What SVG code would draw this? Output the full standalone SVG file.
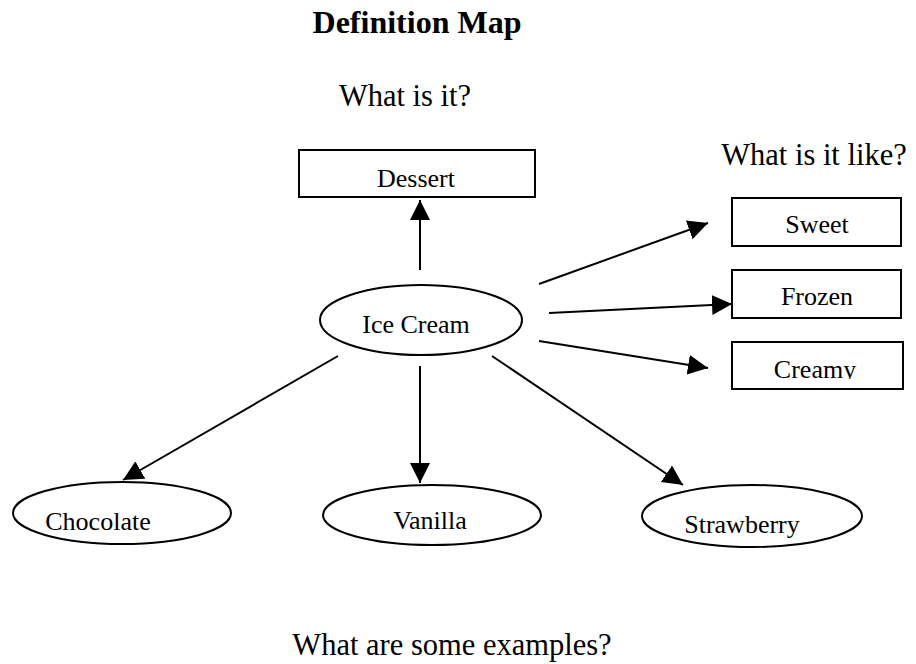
<svg xmlns="http://www.w3.org/2000/svg" width="916" height="664" viewBox="0 0 916 664">
<style>
.t{font-family:"Liberation Serif","Times New Roman",serif;fill:#000}
.lbl{font-size:30.5px}
.nt{font-size:26px}
.box{fill:#fff;stroke:#000;stroke-width:2}
.ell{fill:#fff;stroke:#000;stroke-width:2}
.c{stroke:#000;stroke-width:2;fill:none;marker-end:url(#ah)}
</style>
<defs>
<marker id="ah" markerUnits="userSpaceOnUse" markerWidth="20" markerHeight="20" refX="20" refY="10" orient="auto" viewBox="0 0 20 20">
<path d="M0,0 L20,10 L0,20 z" fill="#000"/>
</marker>
<clipPath id="clipCreamy"><rect x="732" y="342" width="171" height="37"/></clipPath>
</defs>
<rect width="916" height="664" fill="#fff"/>
<text class="t" x="417" y="33" font-size="32" font-weight="bold" text-anchor="middle">Definition Map</text>
<text class="t lbl" x="405" y="106" text-anchor="middle">What is it?</text>
<text class="t lbl" x="814" y="165" text-anchor="middle">What is it like?</text>
<text class="t lbl" x="452" y="655" text-anchor="middle">What are some examples?</text>
<g id="connectors">
<line class="c" x1="420" y1="270" x2="420" y2="200"/>
<line class="c" x1="539" y1="284" x2="708" y2="223"/>
<line class="c" x1="549" y1="313" x2="732" y2="304"/>
<line class="c" x1="539" y1="341" x2="708" y2="368"/>
<line class="c" x1="338" y1="356" x2="123" y2="480"/>
<line class="c" x1="420" y1="366" x2="420" y2="483"/>
<line class="c" x1="492" y1="356" x2="683" y2="485"/>
</g>
<g id="dessert">
<rect class="box" x="299" y="150" width="236" height="47"/>
<text class="t nt" x="416" y="187" text-anchor="middle">Dessert</text>
</g>
<g id="icecream">
<ellipse class="ell" cx="421" cy="320" rx="101" ry="35"/>
<text class="t nt" x="416" y="333" text-anchor="middle">Ice Cream</text>
</g>
<g id="sweet">
<rect class="box" x="732" y="198" width="169" height="48"/>
<text class="t nt" x="817" y="233" text-anchor="middle">Sweet</text>
</g>
<g id="frozen">
<rect class="box" x="732" y="270" width="169" height="48"/>
<text class="t nt" x="817" y="305" text-anchor="middle">Frozen</text>
</g>
<g id="creamy">
<rect class="box" x="732" y="342" width="171" height="47"/>
<text class="t nt" x="815" y="378" text-anchor="middle" clip-path="url(#clipCreamy)">Creamy</text>
</g>
<g id="chocolate">
<ellipse class="ell" cx="122" cy="513" rx="109" ry="31"/>
<text class="t nt" x="98" y="530" text-anchor="middle">Chocolate</text>
</g>
<g id="vanilla">
<ellipse class="ell" cx="432" cy="515" rx="109" ry="30"/>
<text class="t nt" x="430" y="529" text-anchor="middle">Vanilla</text>
</g>
<g id="strawberry">
<ellipse class="ell" cx="752" cy="516" rx="110" ry="31"/>
<text class="t nt" x="742" y="533" text-anchor="middle">Strawberry</text>
</g>
</svg>
